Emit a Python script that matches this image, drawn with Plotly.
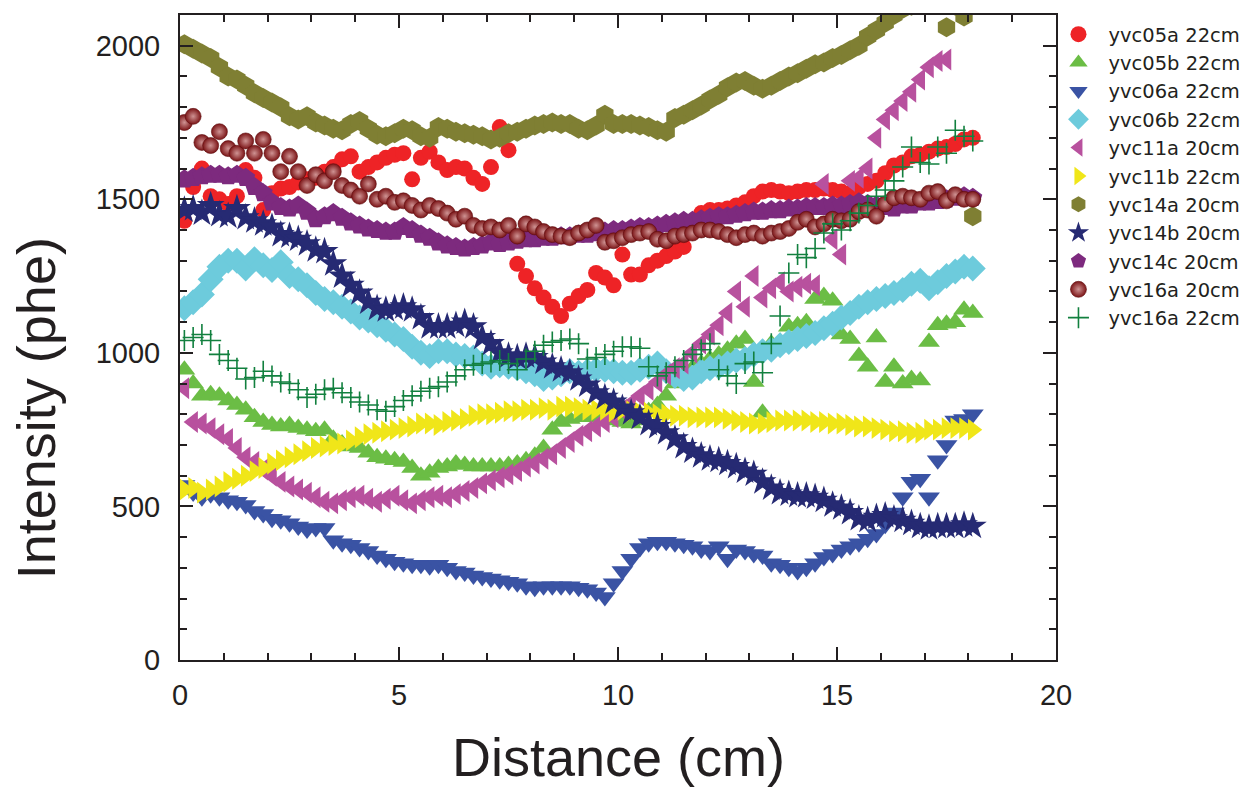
import plotly.graph_objects as go

distance_cm = [0.1, 0.3, 0.5, 0.7, 0.9, 1.1, 1.3, 1.5, 1.7, 1.9,
               2.1, 2.3, 2.5, 2.7, 2.9, 3.1, 3.3, 3.5, 3.7, 3.9,
               4.1, 4.3, 4.5, 4.7, 4.9, 5.1, 5.3, 5.5, 5.7, 5.9,
               6.1, 6.3, 6.5, 6.7, 6.9, 7.1, 7.3, 7.5, 7.7, 7.9,
               8.1, 8.3, 8.5, 8.7, 8.9, 9.1, 9.3, 9.5, 9.7, 9.9,
               10.1, 10.3, 10.5, 10.7, 10.9, 11.1, 11.3, 11.5, 11.7, 11.9,
               12.1, 12.3, 12.5, 12.7, 12.9, 13.1, 13.3, 13.5, 13.7, 13.9,
               14.1, 14.3, 14.5, 14.7, 14.9, 15.1, 15.3, 15.5, 15.7, 15.9,
               16.1, 16.3, 16.5, 16.7, 16.9, 17.1, 17.3, 17.5, 17.7, 17.9,
               18.1]

yvc05a_22cm = [1430, 1540, 1600, 1510, 1500, 1485, 1510, 1595, 1570, 1465,
               1520, 1535, 1540, 1555, 1565, 1570, 1590, 1605, 1630, 1640,
               1590, 1605, 1620, 1635, 1645, 1650, 1565, 1635, 1655, 1620,
               1595, 1605, 1600, 1570, 1550, 1605, 1735, 1660, 1290, 1250,
               1210, 1180, 1150, 1120, 1160, 1185, 1205, 1260, 1245, 1220,
               1320, 1255, 1255, 1285, 1300, 1315, 1330, 1345, 1420, 1455,
               1465, 1465, 1470, 1480, 1490, 1510, 1525, 1530, 1525, 1520,
               1525, 1530, 1530, 1535, 1530, 1525, 1520, 1540, 1550, 1560,
               1585, 1610, 1620, 1640, 1645, 1655, 1665, 1670, 1680, 1695,
               1700]

yvc05b_22cm = [945, 900, 860, 865, 860, 845, 830, 815, 790, 775,
               765, 760, 765, 755, 750, 745, 750, 720, 705, 695,
               690, 675, 660, 655, 650, 645, 625, 600, 610, 625,
               630, 640, 635, 630, 630, 630, 630, 635, 640, 650,
               665, 690, 750, 775, 785, 790, 795, 790, 785, 780,
               775, 770, 780, 810, 830, 860, 900, 925, 950, 965,
               980, 995, 1010, 1030, 1045, 905, 805, 1030, 1035, 1085,
               1090, 1100, 1175, 1185, 1170, 1060, 1045, 990, 955, 1050,
               905, 955, 900, 915, 910, 1035, 1090, 1095, 1100, 1140,
               1130]

yvc06a_22cm = [570, 545, 530, 540, 530, 520, 515, 505, 485, 475,
               460, 455, 445, 435, 425, 430, 430, 390, 380, 375,
               365, 355, 340, 330, 320, 315, 310, 310, 305, 310,
               300, 290, 285, 275, 270, 265, 260, 255, 250, 240,
               235, 240, 240, 240, 240, 235, 230, 220, 205, 250,
               290, 330, 365, 380, 385, 385, 380, 375, 370, 360,
               355, 370, 330, 360, 355, 345, 340, 315, 310, 300,
               290, 300, 315, 335, 345, 360, 370, 380, 395, 410,
               440, 480, 530, 580, 590, 530, 650, 700, 780, 785,
               800]

yvc06b_22cm = [1145, 1165, 1190, 1240, 1280, 1300, 1300, 1275, 1305, 1285,
               1270, 1295, 1250, 1240, 1220, 1195, 1175, 1165, 1150, 1135,
               1115, 1105, 1090, 1075, 1060, 1045, 1020, 1000, 990, 1005,
               1005, 995, 990, 985, 965, 955, 960, 955, 950, 940,
               930, 915, 920, 930, 940, 935, 940, 945, 945, 940,
               935, 935, 945, 955, 965, 940, 925, 915, 920, 940,
               950, 955, 965, 975, 980, 995, 1005, 1010, 1025, 1035,
               1045, 1055, 1065, 1080, 1095, 1115, 1130, 1150, 1165, 1175,
               1185, 1195, 1205, 1225, 1235, 1210, 1230, 1250, 1265, 1280,
               1275]

yvc11a_20cm = [885, 775, 770, 755, 735, 720, 690, 660, 645, 620,
               600, 580, 565, 555, 545, 530, 515, 510, 520, 530,
               535, 525, 515, 525, 535, 520, 510, 520, 530, 535,
               530, 540, 550, 560, 575, 585, 595, 605, 615, 630,
               640, 655, 670, 690, 710, 730, 745, 760, 775, 790,
               815, 835, 860, 880, 905, 930, 950, 965, 1000, 1030,
               1060, 1090, 1130, 1200, 1150, 1250, 1180, 1210, 1230, 1200,
               1215, 1225, 1220, 1550, 1370, 1320, 1560, 1570, 1600, 1700,
               1760, 1790, 1820, 1850, 1890, 1930, 1950, 1955, None, None,
               None]

yvc11b_22cm = [555, 560, 545, 555, 565, 580, 590, 600, 615, 625,
               640, 650, 660, 670, 680, 690, 695, 700, 705, 715,
               725, 735, 740, 745, 750, 755, 760, 770, 770, 765,
               775, 780, 785, 795, 800, 800, 805, 810, 810, 815,
               815, 820, 815, 825, 825, 820, 815, 815, 815, 810,
               815, 810, 805, 805, 800, 800, 795, 795, 790, 790,
               790, 790, 785, 780, 775, 770, 770, 775, 780, 780,
               780, 780, 775, 775, 770, 770, 765, 760, 760, 755,
               750, 745, 745, 740, 740, 750, 750, 755, 755, 755,
               750]

yvc14a_20cm = [2005, 1990, 1975, 1960, 1930, 1900, 1890, 1870, 1845, 1830,
               1815, 1800, 1770, 1760, 1770, 1750, 1740, 1730, 1725, 1745,
               1755, 1730, 1710, 1705, 1715, 1730, 1725, 1705, 1700, 1735,
               1730, 1720, 1715, 1710, 1705, 1695, 1700, 1715, 1720, 1730,
               1740, 1745, 1750, 1745, 1745, 1730, 1725, 1740, 1775, 1745,
               1745, 1745, 1740, 1735, 1725, 1720, 1765, 1775, 1790, 1805,
               1825, 1840, 1865, 1880, 1885, 1870, 1860, 1870, 1885, 1900,
               1910, 1925, 1940, 1945, 1960, 1970, 1985, 2000, 2030, 2050,
               2075, 2100, 2120, 2130, 2140, 2150, 2140, 2060, 2130, 2095,
               1445]

yvc14b_20cm = [1465, 1470, 1455, 1480, 1450, 1445, 1470, 1440, 1430, 1420,
               1410, 1385, 1380, 1370, 1355, 1335, 1330, 1290, 1250, 1220,
               1195, 1165, 1145, 1140, 1145, 1150, 1140, 1115, 1085, 1085,
               1085, 1090, 1100, 1085, 1050, 1030, 1000, 990, 985, 990,
               985, 970, 955, 945, 935, 915, 895, 870, 855, 840,
               820, 805, 790, 770, 760, 740, 720, 695, 680, 665,
               655, 650, 640, 630, 615, 605, 580, 560, 545, 540,
               535, 535, 530, 520, 505, 495, 480, 460, 455, 465,
               470, 460, 455, 445, 435, 430, 435, 435, 435, 440,
               435]

yvc14c_20cm = [1565, 1570, 1575, 1580, 1580, 1575, 1580, 1570, 1540, 1520,
               1490, 1475, 1470, 1480, 1460, 1435, 1445, 1455, 1440, 1425,
               1415, 1405, 1400, 1395, 1395, 1410, 1400, 1385, 1375, 1360,
               1350, 1345, 1340, 1345, 1350, 1360, 1355, 1360, 1365, 1370,
               1370, 1375, 1375, 1380, 1380, 1385, 1385, 1390, 1395, 1400,
               1400, 1405, 1410, 1410, 1415, 1420, 1425, 1430, 1430, 1435,
               1440, 1445, 1445, 1450, 1455, 1460, 1460, 1465, 1465, 1470,
               1470, 1475, 1475, 1475, 1480, 1480, 1485, 1490, 1485, 1480,
               1475, 1470, 1480, 1480, 1490, 1490, 1495, 1500, 1505, 1510,
               1505]

yvc16a_20cm = [1750, 1770, 1685, 1675, 1720, 1665, 1650, 1690, 1650, 1695,
               1650, 1590, 1640, 1590, 1545, 1580, 1560, 1590, 1545, 1530,
               1510, 1550, 1500, 1510, 1490, 1495, 1480, 1465, 1480, 1470,
               1455, 1435, 1445, 1415, 1405, 1410, 1400, 1415, 1380, 1420,
               1410, 1395, 1385, 1380, 1375, 1390, 1400, 1415, 1360, 1365,
               1375, 1385, 1390, 1395, 1370, 1365, 1380, 1385, 1390, 1400,
               1400, 1395, 1385, 1375, 1385, 1390, 1380, 1390, 1395, 1405,
               1425, 1435, 1410, 1420, 1435, 1430, 1435, 1460, 1465, 1445,
               1485, 1505, 1510, 1505, 1500, 1520, 1525, 1495, 1515, 1500,
               1500]

yvc16a_22cm = [1040, 1050, 1060, 1040, 995, 975, 950, 915, 920, 940,
               925, 905, 900, 880, 855, 865, 880, 885, 870, 855,
               840, 830, 815, 810, 825, 845, 860, 875, 885, 890,
               905, 925, 945, 960, 965, 970, 975, 965, 945, 980,
               1005, 1025, 1035, 1040, 1045, 1030, 980, 985, 995, 1005,
               1020, 1020, 1015, 955, 925, 935, 955, 975, 995, 1010,
               1030, 945, 925, 900, 965, 970, 935, 1030, 1120, 1260,
               1320, 1310, 1340, 1390, 1420, 1400, 1430, 1455, 1480, 1510,
               1530, 1560, 1605, 1670, 1620, 1615, 1670, 1650, 1725, 1705,
               1690]

series_names = ["yvc05a 22cm", "yvc05b 22cm", "yvc06a 22cm", "yvc06b 22cm",
                "yvc11a 20cm", "yvc11b 22cm", "yvc14a 20cm", "yvc14b 20cm",
                "yvc14c 20cm", "yvc16a 20cm", "yvc16a 22cm"]
series_values = [yvc05a_22cm, yvc05b_22cm, yvc06a_22cm, yvc06b_22cm,
                 yvc11a_20cm, yvc11b_22cm, yvc14a_20cm, yvc14b_20cm,
                 yvc14c_20cm, yvc16a_20cm, yvc16a_22cm]
series_colors = ["#ee2326", "#6bbd45", "#3a53a4", "#6dcbdc",
                 "#b8519e", "#f0e619", "#7f7f33", "#262a73",
                 "#7d2a7e", "#7b1416", "#12803f"]
series_symbols = ["circle", "triangle-up", "triangle-down", "diamond",
                  "triangle-left", "triangle-right", "hexagon", "star",
                  "pentagon", "circle", "cross-thin"]
series_sizes = [16, 19, 19, 20, 19, 19, 20, 21, 20, 16, 15]

x_ticks = [0, 5, 10, 15, 20]
y_ticks = [0, 500, 1000, 1500, 2000]

AX = "#231f20"
FONT = "Liberation Sans, Arial, sans-serif"
LEGFONT = "DejaVu Sans, sans-serif"

fig = go.Figure()
for name, vals, col, sym, sz in zip(series_names, series_values, series_colors,
                                     series_symbols, series_sizes):
    marker = dict(symbol=sym, size=sz, color=col, line=dict(width=0))
    if sym == "cross-thin":
        marker["line"] = dict(width=1.6, color=col)
    if name == "yvc16a 20cm":
        marker["gradient"] = dict(type="radial", color="#cf9393")
        marker["line"] = dict(width=0.6, color="#5e0c0e")
    fig.add_trace(go.Scatter(x=distance_cm, y=vals, mode="markers", name=name,
                             marker=marker, legendgroup=name))

axis_common = dict(showline=True, linecolor=AX, linewidth=2, mirror="allticks",
                   ticks="inside", ticklen=13, tickwidth=2, tickcolor=AX,
                   showgrid=False, zeroline=False, automargin=False,
                   tickfont=dict(family=FONT, size=29, color=AX))

fig.update_xaxes(range=[0, 20], tickvals=x_ticks, ticktext=[str(v) for v in x_ticks],
                 minor=dict(dtick=1, ticks="inside", ticklen=7, tickwidth=2,
                            tickcolor=AX, showgrid=False),
                 ticklabelstandoff=8, **axis_common)
fig.update_yaxes(range=[0, 2100], tickvals=y_ticks, ticktext=[str(v) for v in y_ticks],
                 minor=dict(dtick=100, ticks="inside", ticklen=7, tickwidth=2,
                            tickcolor=AX, showgrid=False),
                 ticklabelstandoff=12, **axis_common)

fig.add_annotation(text="Distance (cm)", xref="paper", yref="paper", x=0.5, y=-0.150,
                   xanchor="center", yanchor="middle", showarrow=False,
                   font=dict(family=FONT, size=54, color=AX))
fig.add_annotation(text="Intensity (phe)", xref="paper", yref="paper", x=-0.165, y=0.391,
                   xanchor="center", yanchor="middle", showarrow=False, textangle=-90,
                   font=dict(family=FONT, size=54, color=AX))

# the page adds an 8 px body margin, so the figure is 8 px smaller and margins shifted
fig.update_layout(
    width=1243, height=783,
    margin=dict(l=172, r=195, t=7, b=131, autoexpand=False),
    plot_bgcolor="white", paper_bgcolor="white",
    showlegend=True,
    legend=dict(x=0.9914, y=1.0, xanchor="left", yanchor="top",
                font=dict(family=LEGFONT, size=19.5, color=AX),
                bgcolor="rgba(0,0,0,0)", borderwidth=0, tracegroupgap=0,
                itemsizing="trace", itemwidth=50),
)

fig.write_html("out.html")
